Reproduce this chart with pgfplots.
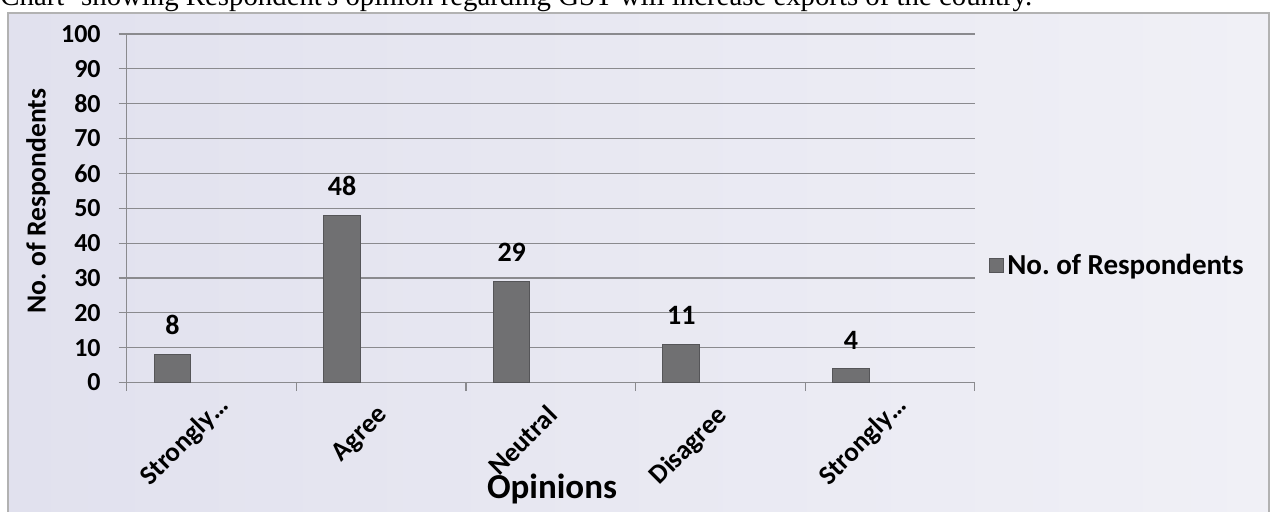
\documentclass[border=0pt]{standalone}
\usepackage{pgfplots}
\pgfplotsset{compat=1.18}
\usepackage{fontspec}
\setmainfont{Carlito}
\newfontfamily\capfont{Liberation Serif}
\definecolor{bgL}{RGB}{225,225,238}
\definecolor{bgR}{RGB}{240,240,246}
\definecolor{barfill}{RGB}{112,112,114}
\definecolor{barline}{RGB}{85,85,88}
\definecolor{gridc}{RGB}{138,138,142}
\begin{document}
\begin{tikzpicture}[x=0.5pt,y=0.5pt]
\useasboundingbox (0,0) rectangle (1273,511);
% chart frame
\shade[left color=bgL, right color=bgR] (8,-4) rectangle (1269,498);
\draw[gray!60, line width=0.8pt] (8,-4) -- (8,498) -- (1269,498) -- (1269,-4);
% caption (cut off at the top of the page, as in the scan)
\node[anchor=base west, inner sep=0pt, font=\capfont\fontsize{14.4}{16}\selectfont] at (0,506) {Chart- showing Respondent's opinion regarding GST will increase exports of the country.};
\begin{axis}[
  at={(63.35pt,64.25pt)}, anchor=south west,
  scale only axis, width=424pt, height=174.25pt,
  xmin=-0.5, xmax=4.5, ymin=0, ymax=100,
  axis x line*=bottom, axis y line*=left,
  axis line style={gridc, line width=0.6pt},
  ytick={0,10,...,100},
  ymajorgrids, grid style={gridc, line width=0.6pt},
  tick align=outside, major tick length=4pt,
  tick style={gridc, line width=0.6pt},
  yticklabel style={font=\bfseries\fontsize{13}{15}\selectfont, xshift=-5.5pt},
  /pgf/number format/assume math mode=true,
  xtick={-0.5,0.5,1.5,2.5,3.5,4.5}, xticklabels={},
  extra x ticks={0,1,2,3,4},
  extra x tick labels={Strongly…\kern-7pt\relax,Agree,Neutral,Disagree,Strongly…\kern-7pt\relax},
  extra x tick style={major tick length=0pt,
     tick label style={rotate=45, anchor=north east, font=\bfseries\fontsize{13.5}{15}\selectfont, yshift=-2.2pt, xshift=-5.8pt}},
  ybar, bar width=18.3pt, bar shift=0pt,
  nodes near coords,
  every node near coord/.append style={font=\bfseries\fontsize{14}{16}\selectfont, anchor=south, inner sep=0pt, yshift=9.5pt},
  legend style={at={(1.009,0.336)}, anchor=west, draw=none, fill=none,
     font=\bfseries\fontsize{14.5}{16}\selectfont, legend cell align=left,
     /tikz/every even column/.append style={column sep=2pt}},
  legend image code/.code={\fill[barfill, draw=barline, line width=0.3pt] (0pt,-3.5pt) rectangle (7pt,3.5pt);},
  clip=false,
]
\addplot[fill=barfill, draw=barline, line width=0.5pt] coordinates {(-0.23,8) (0.77,48) (1.77,29) (2.77,11) (3.77,4)};
\addlegendentry{No.\ of Respondents}
\end{axis}
\node[rotate=90, font=\bfseries\fontsize{13.8}{16}\selectfont] at (38,310) {No.\ of Respondents};
\node[anchor=base, inner sep=0pt, font=\bfseries\fontsize{17.5}{20}\selectfont] at (552,13) {Opinions};
\end{tikzpicture}
\end{document}
